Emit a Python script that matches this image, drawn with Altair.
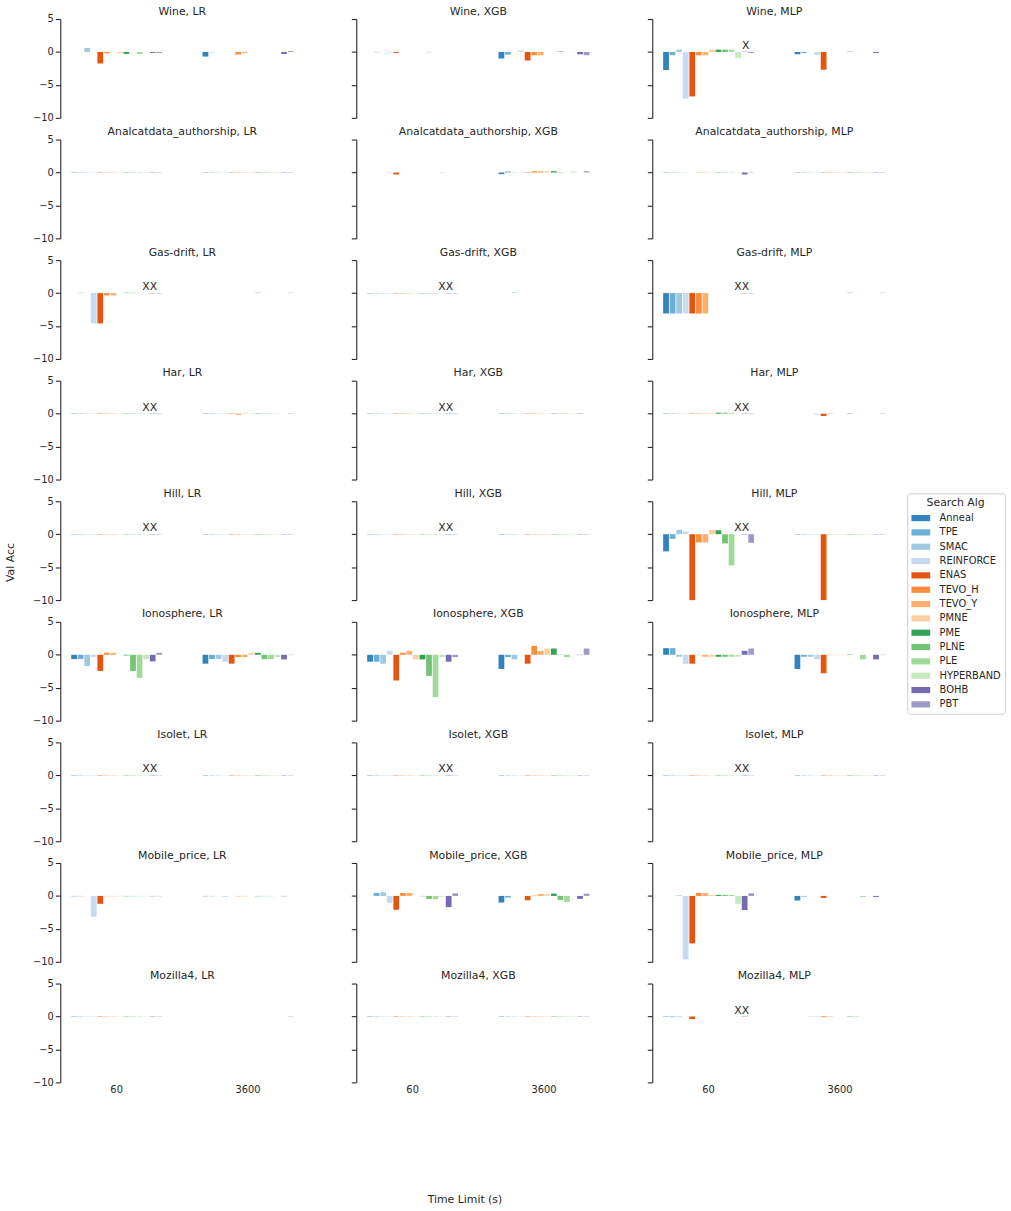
import altair as alt
import pandas as pd

ALGS = ["Anneal", "TPE", "SMAC", "REINFORCE", "ENAS", "TEVO_H", "TEVO_Y", "PMNE",
        "PME", "PLNE", "PLE", "HYPERBAND", "BOHB", "PBT"]
COLORS = ["#3182bd", "#6baed6", "#9ecae1", "#c6dbef", "#e6550d", "#fd8d3c", "#fdae6b",
          "#fdd0a2", "#31a354", "#74c476", "#a1d99b", "#c7e9c0", "#756bb1", "#9e9ac8"]
TIMES = ["60", "3600"]
DATASETS = ["Wine", "Analcatdata_authorship", "Gas-drift", "Har", "Hill", "Ionosphere",
            "Isolet", "Mobile_price", "Mozilla4"]
MODELS = ["LR", "XGB", "MLP"]

# values per panel: [time 60 list, time 3600 list], order = ALGS
WINE_LR = [[0, 0, 0.6, 0, -1.75, -0.2, 0, -0.2, -0.3, 0, -0.3, 0, -0.15, -0.15],
           [-0.7, -0.05, 0, 0, 0, -0.4, -0.15, -0.05, 0, 0, 0, 0, -0.3, 0.15]]
WINE_XGB = [[0, -0.05, 0, -0.1, -0.15, 0, 0, 0, 0, -0.05, 0, 0, 0, 0],
            [-1.0, -0.4, 0, 0.2, -1.3, -0.5, -0.5, 0, 0, 0.1, 0, 0, -0.35, -0.5]]
WINE_MLP = [[-2.75, -0.5, 0.35, -7.1, -6.75, -0.5, -0.5, 0.35, 0.35, 0.35, 0.35, -0.95, 0.05, -0.15],
            [-0.35, -0.15, 0, -0.45, -2.7, 0, 0, 0, 0.05, 0, 0, 0, -0.15, 0]]
ANAL_LR = [[-0.05, -0.05, -0.05, -0.05, -0.05, -0.05, -0.05, -0.05, -0.05, -0.05, -0.05, -0.05, -0.05, -0.05],
           [-0.05, -0.05, -0.05, -0.05, -0.05, -0.05, -0.05, -0.05, -0.05, -0.05, -0.05, -0.05, -0.05, -0.05]]
ANAL_XGB = [[0, 0, 0, -0.1, -0.3, 0, 0, 0, 0, 0, 0, -0.1, 0, 0],
            [-0.25, 0.15, 0.05, 0.05, 0.05, 0.2, 0.2, 0.2, 0.2, 0.05, 0, 0.15, 0, 0.2]]
ANAL_MLP = [[-0.05, -0.05, -0.05, -0.05, 0, -0.05, -0.05, -0.05, -0.05, -0.05, -0.05, -0.05, -0.3, -0.05],
            [-0.05, -0.05, -0.05, -0.05, -0.05, -0.05, -0.05, -0.05, -0.05, -0.05, -0.05, -0.05, -0.05, -0.05]]
GAS_LR = [[0, 0.05, 0, -4.6, -4.6, -0.35, -0.35, 0, 0.05, 0.05, 0.05, 0, -0.05, -0.05],
          [0, 0, 0, 0, 0, 0, 0, 0, 0.05, 0, 0, 0, 0, 0.05]]
GAS_XGB = [[-0.05, -0.05, -0.05, -0.05, -0.05, -0.05, -0.05, -0.05, -0.05, -0.05, -0.05, -0.05, -0.05, -0.05],
           [0, 0, 0.1, 0, 0, 0, 0, 0, 0, 0, 0, 0, 0, 0]]
GAS_MLP = [[-3.1, -3.1, -3.1, -3.1, -3.1, -3.1, -3.1, 0, 0, 0, 0, 0, -0.05, -0.05],
           [0, 0, 0, 0, 0, 0, 0, 0, 0.05, 0, 0, 0, 0, 0.05]]
HAR_LR = [[-0.05, -0.05, -0.05, -0.05, -0.05, -0.05, -0.05, -0.05, -0.05, -0.05, -0.05, -0.05, -0.05, -0.05],
          [-0.05, -0.05, -0.05, -0.05, -0.05, -0.15, -0.05, -0.05, -0.05, -0.05, -0.05, -0.05, 0, -0.05]]
HAR_XGB = [[-0.05, -0.05, -0.05, -0.05, -0.05, -0.05, -0.05, -0.05, -0.05, -0.05, -0.05, -0.05, -0.05, -0.05],
           [-0.05, -0.05, -0.05, -0.05, -0.05, -0.05, -0.05, -0.05, -0.05, -0.05, -0.05, -0.05, -0.05, 0]]
HAR_MLP = [[-0.05, -0.05, -0.05, -0.05, -0.05, -0.05, -0.05, 0.1, 0.15, 0.15, 0.15, 0, -0.05, -0.05],
           [0, 0, 0, -0.15, -0.35, -0.05, 0, 0, 0.05, 0, 0, 0, 0, 0.05]]
HILL_LR = [[-0.05, -0.05, -0.05, -0.05, -0.05, -0.05, -0.05, -0.05, -0.05, -0.05, -0.05, -0.05, -0.05, -0.05],
           [-0.05, -0.05, -0.05, -0.05, -0.05, -0.05, -0.05, -0.05, -0.05, -0.05, -0.05, -0.05, -0.05, -0.05]]
HILL_XGB = [[-0.05, -0.05, -0.05, -0.05, -0.05, -0.05, -0.05, -0.05, -0.05, -0.05, -0.05, -0.05, -0.05, -0.05],
            [-0.05, -0.05, -0.05, -0.05, -0.05, -0.05, -0.05, -0.05, -0.05, -0.05, -0.05, -0.05, -0.05, -0.05]]
HILL_MLP = [[-2.6, -0.7, 0.65, 0.4, -10, -1.25, -1.25, 0.65, 0.6, -1.4, -4.75, 0, -0.05, -1.3],
            [-0.05, -0.05, -0.05, -0.05, -10, -0.05, -0.05, -0.05, -0.05, -0.05, -0.05, -0.05, -0.05, -0.05]]
IONO_LR = [[-0.65, -0.65, -1.7, -0.35, -2.45, 0.3, 0.3, 0, -0.1, -2.45, -3.5, -0.65, -1.0, 0.3],
           [-1.35, -0.65, -0.65, -1.05, -1.35, -0.35, -0.35, 0.3, 0.3, -0.65, -0.65, -0.35, -0.7, -0.05]]
IONO_XGB = [[-1.05, -1.05, -1.35, 0.6, -3.9, 0.3, 0.6, -0.7, -0.7, -3.2, -6.4, -0.35, -1.05, -0.35],
            [-2.15, -0.35, -0.7, 0, -1.35, 1.35, 0.6, 0.95, 0.95, 0.05, -0.35, 0, -0.05, 0.95]]
IONO_MLP = [[1.0, 1.0, -0.3, -1.35, -1.35, -0.05, -0.3, -0.3, -0.3, -0.3, -0.3, -0.3, 0.6, 0.95],
            [-2.15, -0.3, -0.3, -0.7, -2.8, -0.05, -0.05, -0.05, 0.05, 0, -0.7, 0, -0.7, -0.05]]
ISO_LR = [[-0.05, -0.05, -0.05, -0.05, -0.05, -0.05, -0.05, -0.05, -0.05, -0.05, -0.05, -0.05, -0.05, -0.05],
          [-0.05, -0.05, -0.05, -0.05, -0.05, -0.05, -0.05, -0.05, -0.05, -0.05, -0.05, -0.05, -0.05, -0.05]]
ISO_XGB = [[-0.05, -0.05, -0.05, -0.05, -0.05, -0.05, -0.05, -0.05, -0.05, -0.05, -0.05, -0.05, -0.05, -0.05],
           [-0.05, -0.05, -0.05, -0.05, -0.05, -0.05, -0.05, -0.05, -0.05, -0.05, -0.05, -0.05, -0.05, -0.05]]
ISO_MLP = [[-0.05, -0.05, -0.05, -0.05, -0.05, -0.05, -0.05, -0.05, -0.05, -0.05, -0.05, -0.05, -0.05, -0.05],
           [-0.05, -0.05, -0.05, -0.05, -0.05, -0.05, -0.05, -0.05, -0.05, -0.05, -0.05, -0.05, -0.05, -0.05]]
MOB_LR = [[-0.05, -0.05, 0, -3.15, -1.2, -0.05, -0.05, -0.05, -0.05, -0.05, -0.05, -0.05, -0.05, -0.05],
          [-0.05, -0.05, 0, -0.15, 0, -0.05, -0.05, 0, -0.05, -0.05, -0.05, 0, -0.05, 0]]
MOB_XGB = [[0, 0.45, 0.55, -1.05, -2.1, 0.45, 0.45, 0, -0.05, -0.45, -0.5, -0.1, -1.7, 0.4],
           [-1.0, -0.25, 0, 0, -0.65, 0.05, 0.3, 0.25, 0.35, -0.6, -0.9, -0.05, -0.45, 0.35]]
MOB_MLP = [[0, 0, 0.1, -9.65, -7.2, 0.45, 0.45, 0.15, 0.15, 0.15, 0.15, -1.2, -2.15, 0.4],
           [-0.7, -0.1, 0, 0, -0.3, 0, 0, 0, 0, 0, -0.15, 0, -0.15, 0]]
MOZ_LR = [[-0.05, -0.05, -0.05, -0.05, -0.05, -0.05, -0.05, -0.05, -0.05, -0.05, -0.05, -0.05, -0.05, -0.05],
          [0, 0, 0, 0, 0, 0, 0, 0, 0, 0, 0, 0, 0, -0.05]]
MOZ_XGB = [[-0.05, -0.05, -0.05, -0.05, -0.05, -0.05, -0.05, -0.05, -0.05, -0.05, -0.05, -0.05, -0.05, -0.05],
           [-0.05, -0.05, -0.05, -0.05, -0.05, -0.05, -0.05, -0.05, -0.05, -0.05, -0.05, -0.05, -0.05, -0.05]]
MOZ_MLP = [[-0.05, -0.1, -0.1, 0, -0.4, 0, 0, 0, 0, 0, 0, -0.05, -0.05, 0],
           [0, 0, -0.05, -0.1, -0.1, -0.05, 0, 0, -0.05, -0.05, 0, 0, 0, 0]]

PANEL_VALUES = [
    [WINE_LR, WINE_XGB, WINE_MLP],
    [ANAL_LR, ANAL_XGB, ANAL_MLP],
    [GAS_LR, GAS_XGB, GAS_MLP],
    [HAR_LR, HAR_XGB, HAR_MLP],
    [HILL_LR, HILL_XGB, HILL_MLP],
    [IONO_LR, IONO_XGB, IONO_MLP],
    [ISO_LR, ISO_XGB, ISO_MLP],
    [MOB_LR, MOB_XGB, MOB_MLP],
    [MOZ_LR, MOZ_XGB, MOZ_MLP],
]

# (dataset, model, marker)
ANNOTATIONS = [
    ("Wine", "MLP", "X"),
    ("Gas-drift", "LR", "XX"), ("Gas-drift", "XGB", "XX"), ("Gas-drift", "MLP", "XX"),
    ("Har", "LR", "XX"), ("Har", "XGB", "XX"), ("Har", "MLP", "XX"),
    ("Hill", "LR", "XX"), ("Hill", "XGB", "XX"), ("Hill", "MLP", "XX"),
    ("Isolet", "LR", "XX"), ("Isolet", "XGB", "XX"), ("Isolet", "MLP", "XX"),
    ("Mozilla4", "MLP", "XX"),
]

FONT = "DejaVu Sans"
TXT = "#262626"
PW, PH = 247, 100

legend = alt.Legend(
    title="Search Alg", orient="none", legendX=857, legendY=480,
    symbolType="M-2,-0.66H2V0.66H-2Z", symbolSize=90, symbolStrokeWidth=0,
    labelOffset=14, symbolOffset=4.75, rowPadding=4.5, padding=4,
    strokeColor="#cccccc", fillColor="white", cornerRadius=3,
    titleAnchor="middle", titleFontSize=11, titleFontWeight="normal",
    labelFontSize=10, titleFont=FONT, labelFont=FONT, titleColor=TXT, labelColor=TXT,
)


def make_panel(r, c):
    ds, model = DATASETS[r], MODELS[c]
    vals = PANEL_VALUES[r][c]
    rows = []
    for t, lst in zip(TIMES, vals):
        for a, v in zip(ALGS, lst):
            rows.append({"time": t, "alg": a, "val": v})
    df = pd.DataFrame(rows)

    if r == len(DATASETS) - 1:
        xaxis = alt.Axis(title=None, labelAngle=0, domain=False, ticks=False, labelPadding=2)
    else:
        xaxis = None
    if c == 0:
        yaxis = alt.Axis(values=[-10, -5, 0, 5], title=None, grid=False, labelPadding=2)
    else:
        yaxis = alt.Axis(values=[-10, -5, 0, 5], title=None, grid=False, labels=False)

    x = alt.X("time:N", sort=TIMES,
              scale=alt.Scale(domain=TIMES, paddingInner=0.308, paddingOuter=0.083), axis=xaxis)
    xo = alt.XOffset("alg:N", sort=ALGS, scale=alt.Scale(domain=ALGS, paddingInner=0.12))
    y = alt.Y("val:Q", scale=alt.Scale(domain=[-10, 5], nice=False, zero=True), axis=yaxis)

    bars = alt.Chart(df).mark_bar().encode(
        x=x, xOffset=xo, y=y,
        color=alt.Color("alg:N", sort=ALGS, scale=alt.Scale(domain=ALGS, range=COLORS), legend=legend),
    )
    layers = [bars]

    title = alt.Chart(pd.DataFrame({"t": [f"{ds}, {model}"]})).mark_text(
        fontSize=11, font=FONT, color=TXT, align="center", baseline="alphabetic"
    ).encode(x=alt.value(PW / 2), y=alt.value(-4.5), text="t:N")
    layers.append(title)

    for (d, mo, m) in ANNOTATIONS:
        if d == ds and mo == model:
            ann = pd.DataFrame([{"time": "60", "alg": "BOHB", "val": 0, "label": m}])
            txt = alt.Chart(ann).mark_text(
                baseline="bottom", align="center", dx=(1 if len(m) == 1 else -3), dy=-1,
                fontSize=11, font=FONT, color=TXT
            ).encode(x=x, xOffset=xo, y=y, text="label:N")
            layers.append(txt)

    if r == 4 and c == 0:
        lab = alt.Chart(pd.DataFrame({"t": ["Val Acc"]})).mark_text(
            angle=270, fontSize=11, font=FONT, color=TXT, align="center", baseline="middle"
        ).encode(x=alt.value(-50), y=alt.value(62), text="t:N")
        layers.append(lab)
    if r == len(DATASETS) - 1 and c == 1:
        lab = alt.Chart(pd.DataFrame({"t": ["Time Limit (s)"]})).mark_text(
            fontSize=11, font=FONT, color=TXT, align="center", baseline="middle"
        ).encode(x=alt.value(110), y=alt.value(219), text="t:N")
        layers.append(lab)

    return alt.layer(*layers).properties(width=PW, height=PH)


panels = [make_panel(r, c) for r in range(len(DATASETS)) for c in range(3)]

chart = alt.concat(
    *panels, columns=3, spacing={"row": 22, "column": 52.5}, bounds="flush",
    background="white", padding={"left": 5, "top": -2, "right": 5, "bottom": 5},
).configure_view(
    strokeWidth=0, stroke="transparent"
).configure_axis(
    labelFont=FONT, labelFontSize=10, labelColor=TXT, domainColor=TXT, tickColor=TXT,
    tickSize=5, domainWidth=1.1, tickWidth=1.1, grid=False,
)

chart.save("out.html", embed_options={"renderer": "svg", "actions": False})
